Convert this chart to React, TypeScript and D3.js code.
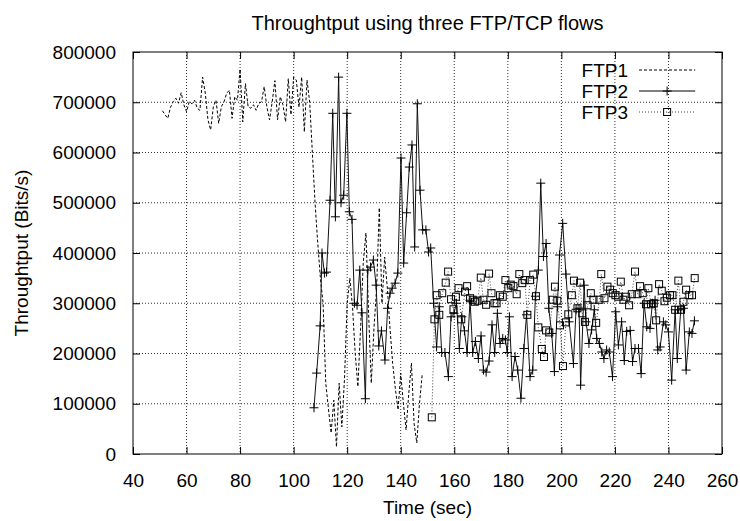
import { useRef, useEffect } from 'react';
import * as d3 from 'd3';

type Pt = [number, number];

// Time (sec), throughput (bits/s)
const ftp1: Pt[] = [
  [51, 683000], [52, 675000], [53, 668000], [54, 690000], [55, 701000], [56, 708000], [57, 698000], [58, 719000],
  [59, 695000], [60, 681000], [61, 701000], [62, 697000], [63, 704000], [64, 688000], [65, 684000], [66, 750000],
  [67, 718000], [68, 665000], [69, 645000], [70, 691000], [71, 704000], [72, 658000], [73, 691000], [74, 701000],
  [75, 718000], [76, 724000], [77, 668000], [78, 711000], [79, 704000], [80, 766000], [81, 661000], [82, 737000],
  [83, 691000], [84, 688000], [85, 695000], [86, 684000], [87, 698000], [88, 701000], [89, 731000], [90, 691000],
  [91, 665000], [92, 701000], [93, 743000], [94, 665000], [95, 711000], [96, 695000], [97, 661000], [98, 747000],
  [99, 675000], [100, 750000], [101, 744000], [102, 690000], [103, 750000], [104, 641000], [105, 744000], [106, 700000],
  [107, 599000], [108, 500000], [109, 420000], [110, 350000], [111, 300000], [112, 141000], [113, 90000], [114, 42000],
  [115, 107000], [116, 14000], [117, 141000], [118, 54000], [119, 150000], [120, 300000], [121, 350000], [122, 292000],
  [123, 200000], [124, 134000], [125, 250000], [126, 380000], [127, 440000], [128, 280000], [129, 141000], [130, 250000],
  [131, 330000], [132, 490000], [133, 300000], [134, 392000], [135, 330000], [136, 250000], [137, 180000], [138, 130000],
  [139, 88000], [140, 161000], [141, 100000], [142, 48000], [143, 120000], [144, 181000], [145, 60000], [146, 22000],
  [147, 100000], [148, 157000],
];

const ftp2: Pt[] = [
  [107.6, 92000], [108.6, 161000], [109.9, 255000], [110.6, 400000], [111.5, 360000], [112.3, 362000], [113.6, 505000],
  [114.6, 678000], [115.6, 472000], [116.8, 750000], [117.7, 500000], [118.7, 515000], [119.9, 678000], [120.8, 482000],
  [121.8, 467000], [122.7, 300000], [123.7, 296000], [124.7, 366000], [125.5, 281000], [126.8, 110000], [127.7, 366000],
  [128.7, 372000], [129.8, 386000], [130.8, 336000], [131.8, 215000], [132.8, 245000], [134.1, 187000], [135.1, 290000],
  [136, 320000], [136.8, 330000], [137.9, 340000], [138.9, 360000], [140.1, 589000], [141.1, 380000], [142.2, 480000],
  [143.2, 571000], [144.2, 615000], [145.2, 412000], [146.2, 697000], [147.2, 525000], [148.2, 446000], [149.4, 446000],
  [150.4, 402000], [151.2, 410000], [152.3, 300000], [153.4, 213000], [154.4, 293000], [155.3, 202000], [156.5, 202000],
  [157.8, 154000], [158.8, 273000], [159.9, 280000], [160.8, 300000], [161.9, 210000], [162.8, 273000], [163.8, 245000],
  [164.8, 202000], [165.9, 306000], [166.9, 202000], [167.9, 224000], [169, 190000], [170, 235000], [170.9, 167000],
  [171.9, 163000], [173, 185000], [174.1, 257000], [175.1, 202000], [176.1, 280000], [177.1, 220000], [178.1, 230000],
  [179.1, 227000], [179.8, 202000], [180.6, 273000], [181.6, 154000], [182.7, 194000], [183.7, 167000], [184.9, 111000],
  [186, 210000], [187, 277000], [188.3, 154000], [189.3, 167000], [190.3, 314000], [191.4, 366000], [192.3, 539000],
  [193.3, 393000], [194.3, 419000], [195.3, 290000], [196.4, 240000], [197.4, 164000], [198.5, 293000], [199.3, 396000],
  [200.5, 459000], [201.7, 358000], [202.9, 263000], [204.5, 180000], [205.5, 288000], [206.6, 290000], [207.2, 137000],
  [208.5, 336000], [209.2, 263000], [210.3, 220000], [211.3, 247000], [212.3, 287000], [213.2, 230000], [214.2, 220000],
  [215.1, 203000], [215.9, 190000], [216.9, 207000], [217.9, 203000], [219.1, 154000], [220.3, 283000], [221.3, 217000],
  [222.5, 263000], [223.5, 186000], [224.4, 244000], [225.7, 246000], [226.6, 184000], [227.5, 210000], [228.8, 210000],
  [229.8, 160000], [230.9, 300000], [231.9, 253000], [233.1, 250000], [234, 300000], [235, 306000], [236, 207000],
  [236.9, 213000], [238.1, 263000], [239, 257000], [240, 243000], [241.2, 147000], [242.5, 287000], [243.3, 190000],
  [244.6, 287000], [245.6, 290000], [246.6, 167000], [247.8, 243000], [248.8, 240000], [249.7, 265000],
];

const ftp3: Pt[] = [
  [151.6, 73000], [152.6, 268000], [153.4, 316000], [154.4, 277000], [155.5, 320000], [156.8, 341000], [157.7, 363000],
  [158.8, 308000], [159.7, 288000], [160.6, 313000], [161.6, 330000], [162.6, 268000], [164, 323000], [164.8, 334000],
  [165.9, 310000], [166.9, 307000], [167.7, 303000], [168.7, 305000], [169.9, 351000], [170.9, 307000], [171.9, 297000],
  [173, 359000], [173.9, 320000], [175, 300000], [175.8, 300000], [177.1, 316000], [178.1, 313000], [179.1, 346000],
  [180.2, 330000], [181.1, 337000], [182.1, 334000], [183.3, 318000], [184.3, 358000], [185.4, 340000], [186.3, 346000],
  [187.3, 277000], [188.3, 346000], [189.5, 357000], [190.5, 314000], [191.4, 252000], [192.7, 209000], [193.5, 193000],
  [194.3, 246000], [195.5, 242000], [196.8, 307000], [197.6, 333000], [198.5, 305000], [199.5, 256000], [200.6, 175000],
  [201.7, 262000], [202.6, 278000], [203.9, 316000], [204.7, 345000], [206, 290000], [207, 341000], [207.8, 280000],
  [208.8, 263000], [209.8, 296000], [211, 320000], [212, 307000], [213, 261000], [214.2, 307000], [214.9, 358000],
  [216.1, 310000], [217.2, 333000], [218.2, 327000], [219.2, 320000], [220.2, 316000], [221.2, 313000], [222.2, 343000],
  [223.2, 307000], [224.2, 313000], [225.3, 296000], [226.3, 318000], [227.5, 363000], [228.4, 318000], [229.4, 334000],
  [230.4, 320000], [231.6, 298000], [232.5, 330000], [233.5, 298000], [234.5, 300000], [235.4, 266000], [236.5, 338000],
  [237.5, 325000], [238.5, 304000], [239.4, 311000], [240.6, 316000], [241.5, 316000], [242.5, 287000], [243.7, 345000],
  [244.7, 287000], [245.6, 303000], [246.6, 327000], [247.8, 316000], [248.8, 316000], [249.8, 350000],
];

const seriesNames = ["FTP1", "FTP2", "FTP3"];
const xTicks = [40, 60, 80, 100, 120, 140, 160, 180, 200, 220, 240, 260];
const yTicks = [0, 100000, 200000, 300000, 400000, 500000, 600000, 700000, 800000];

const FONT = "'Liberation Sans', Arial, Helvetica, sans-serif";
const FS = "19px";

export default function App() {
  const svgRef = useRef<SVGSVGElement>(null);

  useEffect(() => {
    if (!svgRef.current) return;
    document.body.style.margin = "0";

    d3.select(svgRef.current).selectAll("*").remove();

    const W = 740, H = 521;
    const margin = { top: 52, right: 18, bottom: 67, left: 133 };
    const width = W - margin.left - margin.right;
    const height = H - margin.top - margin.bottom;

    const svg = d3.select(svgRef.current)
      .attr("width", W)
      .attr("height", H)
      .style("font-family", FONT);

    svg.append("rect").attr("width", W).attr("height", H).attr("fill", "#fff");

    const g = svg.append("g").attr("transform", `translate(${margin.left},${margin.top})`);

    const x = d3.scaleLinear().domain([40, 260]).range([0, width]);
    const y = d3.scaleLinear().domain([0, 800000]).range([height, 0]);

    // dotted grid
    g.append("g").selectAll("line")
      .data(xTicks.slice(1, -1))
      .enter().append("line")
      .attr("x1", d => x(d)).attr("x2", d => x(d))
      .attr("y1", 0).attr("y2", height)
      .attr("stroke", "#333").attr("stroke-width", 1)
      .attr("stroke-dasharray", "1,2");
    g.append("g").selectAll("line")
      .data(yTicks.slice(1, -1))
      .enter().append("line")
      .attr("x1", 0).attr("x2", width)
      .attr("y1", d => y(d)).attr("y2", d => y(d))
      .attr("stroke", "#333").attr("stroke-width", 1)
      .attr("stroke-dasharray", "1,2");

    // axes with inward ticks, mirrored
    const tickLen = 7;
    const styleAxis = (sel: any) => {
      sel.select(".domain").remove();
      sel.selectAll(".tick line").attr("stroke", "#000");
      sel.selectAll(".tick text").style("font-size", FS).style("font-family", FONT).attr("fill", "#000");
    };
    g.append("g").attr("transform", `translate(0,${height})`)
      .call(d3.axisBottom(x).tickValues(xTicks).tickSize(-tickLen).tickPadding(13 + tickLen).tickFormat(d3.format("d")))
      .call(styleAxis);
    g.append("g")
      .call(d3.axisLeft(y).tickValues(yTicks).tickSize(-tickLen).tickPadding(10 + tickLen).tickFormat(d3.format("d")))
      .call(styleAxis);
    g.append("g")
      .call(d3.axisTop(x).tickValues(xTicks).tickSize(-tickLen).tickFormat(() => ""))
      .call(styleAxis);
    g.append("g").attr("transform", `translate(${width},0)`)
      .call(d3.axisRight(y).tickValues(yTicks).tickSize(-tickLen).tickFormat(() => ""))
      .call(styleAxis);

    g.append("rect")
      .attr("width", width).attr("height", height)
      .attr("fill", "none").attr("stroke", "#000").attr("stroke-width", 1);

    const line = d3.line<Pt>().x(d => x(d[0])).y(d => y(d[1]));

    // FTP1 dashed
    g.append("path").datum(ftp1)
      .attr("fill", "none").attr("stroke", "#000").attr("stroke-width", 1)
      .attr("stroke-dasharray", "3,2").attr("d", line);

    // FTP3 dotted with squares
    g.append("path").datum(ftp3)
      .attr("fill", "none").attr("stroke", "#444").attr("stroke-width", 1)
      .attr("stroke-dasharray", "1,2").attr("d", line);

    // FTP2 solid with plus marks
    g.append("path").datum(ftp2)
      .attr("fill", "none").attr("stroke", "#111").attr("stroke-width", 1)
      .attr("d", line);

    const plus = (sel: any, cx: number, cy: number) => {
      sel.append("path")
        .attr("d", `M${cx - 4.5},${cy}H${cx + 4.5}M${cx},${cy - 4.5}V${cy + 4.5}`)
        .attr("stroke", "#000").attr("stroke-width", 1).attr("fill", "none");
    };
    const square = (sel: any, cx: number, cy: number) => {
      sel.append("rect")
        .attr("x", cx - 3.5).attr("y", cy - 3.5).attr("width", 7).attr("height", 7)
        .attr("stroke", "#000").attr("stroke-width", 1).attr("fill", "none");
    };

    const marks2 = g.append("g");
    ftp2.forEach(d => plus(marks2, x(d[0]), y(d[1])));
    const marks3 = g.append("g");
    ftp3.forEach(d => square(marks3, x(d[0]), y(d[1])));

    // legend
    const legend = g.append("g");
    const lx1 = x(229), lx2 = x(250);
    seriesNames.forEach((name, i) => {
      const ly = 18 + i * 21;
      legend.append("text")
        .attr("x", lx1 - 11).attr("y", ly).attr("dy", "0.35em")
        .attr("text-anchor", "end").style("font-size", FS).text(name);
      const ln = legend.append("line")
        .attr("x1", lx1).attr("x2", lx2).attr("y1", ly).attr("y2", ly)
        .attr("stroke", "#000").attr("stroke-width", 1);
      if (i === 0) ln.attr("stroke-dasharray", "3,2");
      if (i === 2) ln.attr("stroke", "#444").attr("stroke-dasharray", "1,2");
      const cx = (lx1 + lx2) / 2;
      if (i === 1) plus(legend, cx, ly);
      if (i === 2) square(legend, cx, ly);
    });

    // titles
    svg.append("text")
      .attr("x", margin.left + width / 2).attr("y", 23).attr("dy", "0.35em")
      .attr("text-anchor", "middle").style("font-size", "20px")
      .text("Throughtput using three FTP/TCP flows");
    svg.append("text")
      .attr("x", margin.left + width / 2).attr("y", 507).attr("dy", "0.35em")
      .attr("text-anchor", "middle").style("font-size", FS)
      .text("Time (sec)");
    svg.append("text")
      .attr("transform", `translate(21,${margin.top + height / 2}) rotate(-90)`)
      .attr("dy", "0.35em")
      .attr("text-anchor", "middle").style("font-size", FS)
      .text("Throughtput (Bits/s)");
  }, []);

  return <svg ref={svgRef} width={740} height={521} style={{ display: "block" }} />;
}
